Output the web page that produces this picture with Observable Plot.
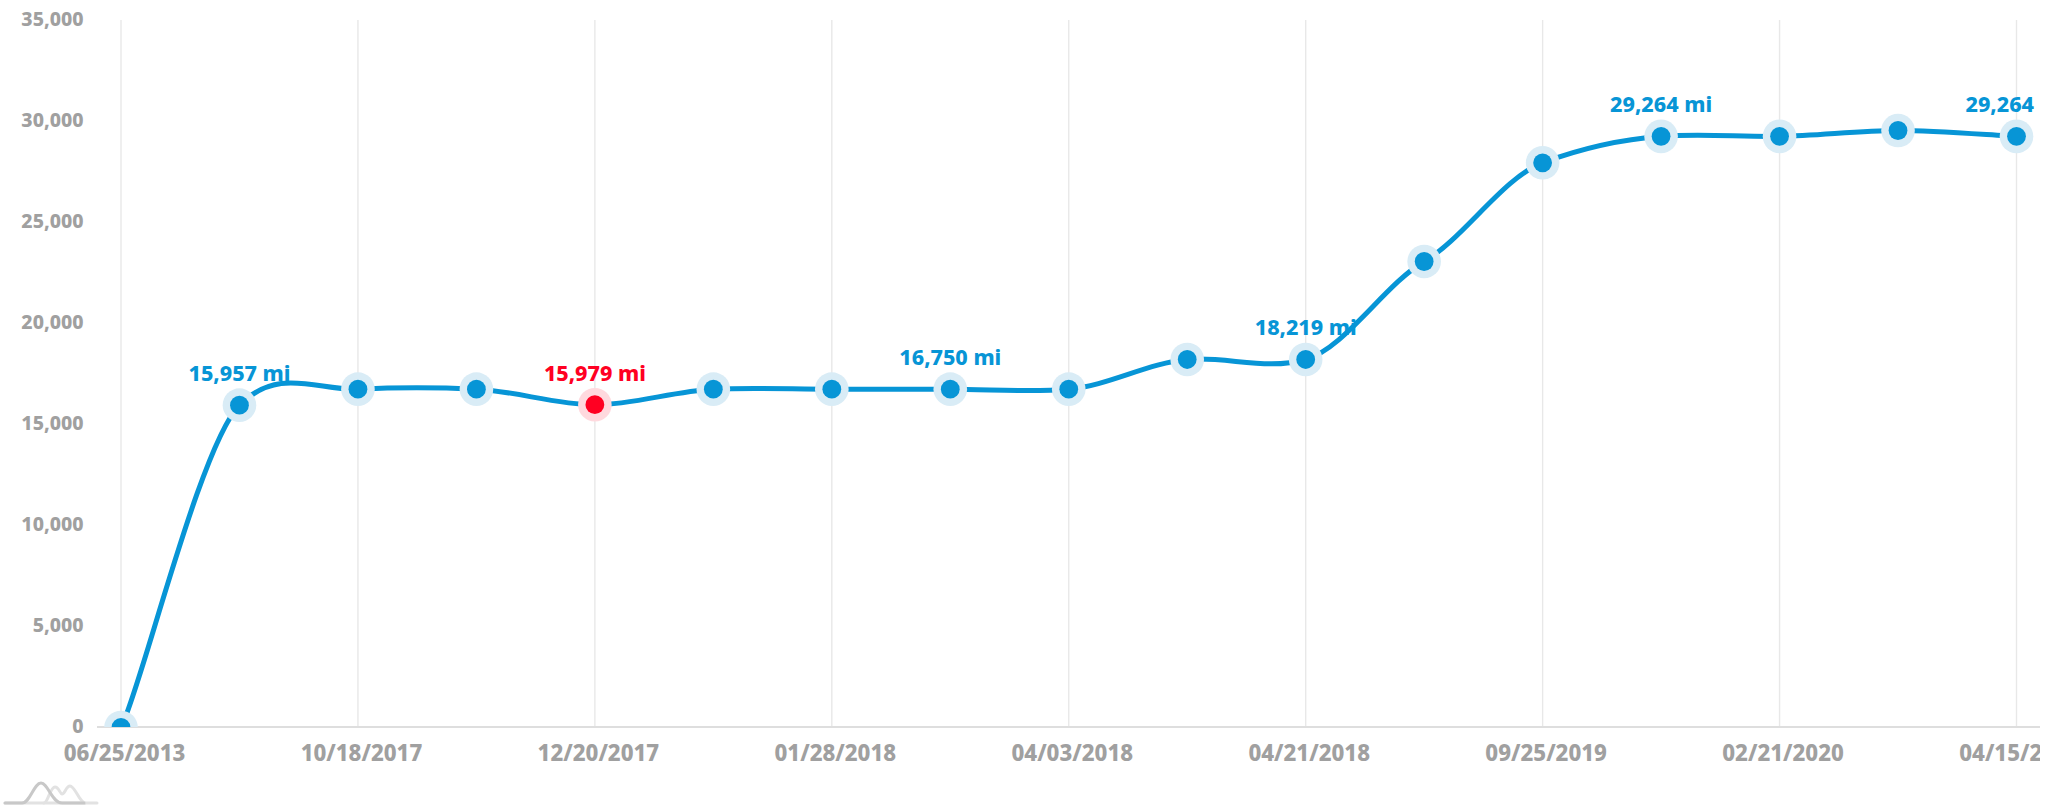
<!DOCTYPE html>
<html><head><meta charset="utf-8">
<script src="https://cdn.jsdelivr.net/npm/d3@7"></script>
<script src="https://cdn.jsdelivr.net/npm/@observablehq/plot@0.6"></script>
<style>
html,body{margin:0;padding:0;background:#fff;overflow:hidden}
#wrap{position:relative;width:2068px;height:806px}
#logo{position:absolute;left:0;top:776px}
</style></head><body><div id="wrap"></div>
<script>
const slots = [0,1,2,3,4,5,6,7,8,9,10,11,12,13,14,15,16];
const miles = [0,15957,16750,16750,15979,16750,16750,16750,16750,18219,18219,23070,27955,29264,29264,29554,29264];
const dateLabels = {0:"06/25/2013",2:"10/18/2017",4:"12/20/2017",6:"01/28/2018",8:"04/03/2018",10:"04/21/2018",12:"09/25/2019",14:"02/21/2020",16:"04/15/2020"};
const labelledSlots = [1,4,7,10,13,16];
const redSlot = 4;
const blue = "#0795d6", red = "#ff0022", blueHalo = "#d9ecf6", redHalo = "#ffd9de", gray = "#a0a0a0";
const font = "'Noto Sans', 'Open Sans', sans-serif";

const rows = slots.map(i => ({i, v: miles[i]}));
const isRed = d => d.i === redSlot;
const labelled = rows.filter(d => labelledSlots.includes(d.i));

// Spline with separate horizontal and vertical tension, as the source chart's smoothing.
const tensionCurve = (tx, ty) => context => {
  let pts;
  return {
    lineStart() { pts = []; },
    point(x, y) { pts.push([+x, +y]); },
    lineEnd() {
      context.moveTo(pts[0][0], pts[0][1]);
      for (let k = 0; k < pts.length - 1; k++) {
        const a = pts[Math.max(k - 1, 0)], b = pts[k], c = pts[k + 1], d = pts[Math.min(k + 2, pts.length - 1)];
        context.bezierCurveTo(
          b[0] + (c[0] - a[0]) / 6 * tx, b[1] + (c[1] - a[1]) / 6 * ty,
          c[0] - (d[0] - b[0]) / 6 * tx, c[1] - (d[1] - b[1]) / 6 * ty,
          c[0], c[1]);
      }
    },
    areaStart() {}, areaEnd() {}
  };
};

const chart = Plot.plot({
  width: 2040, height: 806,
  marginLeft: 97, marginRight: 0, marginTop: 20, marginBottom: 79,
  style: {fontFamily: font, background: "#fff", overflow: "hidden"},
  x: {type: "linear", domain: [0,16], range: [120.5,2016]},
  y: {domain: [0,35000], range: [727,20]},
  marks: [
    Plot.ruleX(Object.keys(dateLabels).map(Number), {y1: 0, y2: 35000, stroke: "#e8e8e8", strokeWidth: 1.4}),
    Plot.ruleY([0], {stroke: "#dedede", strokeWidth: 2, dy: -0.5}),
    Plot.axisY({ticks: d3.range(0,35001,5000), tickFormat: d3.format(","), tickSize: 0, tickPadding: 14,
      dy: -0.5, fontSize: 19.5, fontWeight: 800, fill: gray, label: null}),
    Plot.axisX({ticks: Object.keys(dateLabels).map(Number), tickFormat: d => dateLabels[d], tickSize: 0, tickPadding: 18,
      dx: 3.5, fontSize: 22.2, fontWeight: 800, fill: gray, label: null}),
    Plot.line(rows, {x: "i", y: "v", stroke: blue, strokeWidth: 5, curve: tensionCurve(1, 0.7), clip: true}),
    Plot.dot(rows, {x: "i", y: "v", r: 16.8, fill: d => isRed(d) ? redHalo : blueHalo, clip: true}),
    Plot.dot(rows, {x: "i", y: "v", r: 9.4, fill: d => isRed(d) ? red : blue, clip: true}),
    Plot.text(labelled, {x: "i", y: "v", dy: -31, text: d => d3.format(",")(d.v) + " mi",
      fill: d => isRed(d) ? red : blue, fontSize: 21.5, fontWeight: 800, clip: true})
  ]
});
const wrap = document.getElementById("wrap");
wrap.appendChild(chart);
wrap.insertAdjacentHTML("beforeend", `<svg id="logo" width="100" height="30" viewBox="0 0 100 30" fill="none" stroke-linecap="round">
<path d="M5 27 H97" stroke="#e2e2e2" stroke-width="3"/>
<path d="M44 27 C48 27 50 11 55 11 C59 11 60 18 62 18 C65 18 66 10 70 10 C75 10 79 26 85 27" stroke="#e2e2e2" stroke-width="3"/>
<path d="M5 27 H22 C30 27 34 7 41 7 C48 7 52 27 62 27 H84" stroke="#c8c8c8" stroke-width="3"/>
</svg>`);
</script></body></html>
